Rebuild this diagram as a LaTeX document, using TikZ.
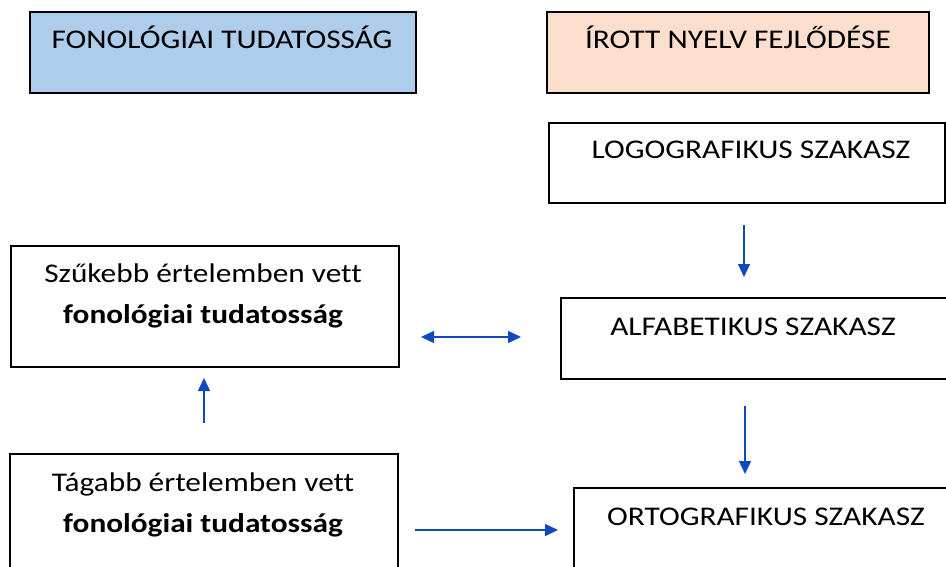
\documentclass[tikz,border=0pt]{standalone}
\usepackage{fontspec}
\setmainfont[Ligatures=CommonOff,FakeStretch=1.16]{Carlito}
\usetikzlibrary{arrows.meta}
\definecolor{fonblue}{RGB}{174,205,234}
\definecolor{irpeach}{RGB}{251,222,204}
\definecolor{arrblue}{RGB}{16,72,190}
\tikzset{
  box/.style={draw=black, line width=1.8pt, anchor=north west, inner sep=0pt},
  txt/.style={anchor=base, inner sep=0pt, font=\fontsize{27}{32}\selectfont},
  conn/.style={draw=arrblue, line width=1.4pt, -{Triangle[length=13pt,width=12pt]}},
  conn2/.style={draw=arrblue, line width=1.4pt, {Triangle[length=13pt,width=12pt]}-{Triangle[length=13pt,width=12pt]}}
}
\begin{document}
\begin{tikzpicture}[x=1pt,y=-1pt]
\useasboundingbox (0,0) rectangle (946,567);
\fill[white] (0,0) rectangle (946,567);
% top header boxes
\node[box, fill=fonblue, minimum width=386pt, minimum height=81pt] (fon) at (29,11) {};
\node[box, fill=irpeach, minimum width=382pt, minimum height=81pt] (iro) at (546,11) {};
\node[txt] (fonT) at (222,49) {FONOLÓGIAI TUDATOSSÁG};
\node[txt] (iroT) at (738,49) {ÍROTT NYELV FEJLŐDÉSE};
% right column
\node[box, minimum width=396pt, minimum height=80pt] (logo) at (548,122) {};
\node[txt] (logoT) at (751,159) {LOGOGRAFIKUS SZAKASZ};
\node[box, minimum width=390pt, minimum height=81pt] (alfa) at (560,297) {};
\node[txt] (alfaT) at (753,335) {ALFABETIKUS SZAKASZ};
\node[box, minimum width=400pt, minimum height=100pt] (orto) at (573,487) {};
\node[txt] (ortoT) at (766,525) {ORTOGRAFIKUS SZAKASZ};
% left column
\node[box, minimum width=388pt, minimum height=121pt] (szuk) at (10,245) {};
\node[txt] (szukA) at (203,282) {Szűkebb értelemben vett};
\node[txt] (szukB) at (203,323) {\bfseries fonológiai tudatosság};
\node[box, minimum width=388pt, minimum height=130pt] (tag) at (9,453) {};
\node[txt] (tagA) at (203,491) {Tágabb értelemben vett};
\node[txt] (tagB) at (203,532) {\bfseries fonológiai tudatosság};
% connector end points
\coordinate (a1s) at (744,225); \coordinate (a1e) at (744,277);
\coordinate (a2s) at (745,406); \coordinate (a2e) at (745,474);
\coordinate (dls) at (421,337); \coordinate (dre) at (521,337);
\coordinate (ups) at (204,423); \coordinate (upe) at (204,378);
\coordinate (rs) at (415,530); \coordinate (re) at (558,530);
\draw[conn] (a1s) -- (a1e);
\draw[conn] (a2s) -- (a2e);
\draw[conn2] (dls) -- (dre);
\draw[conn] (ups) -- (upe);
\draw[conn] (rs) -- (re);
\end{tikzpicture}
\end{document}
